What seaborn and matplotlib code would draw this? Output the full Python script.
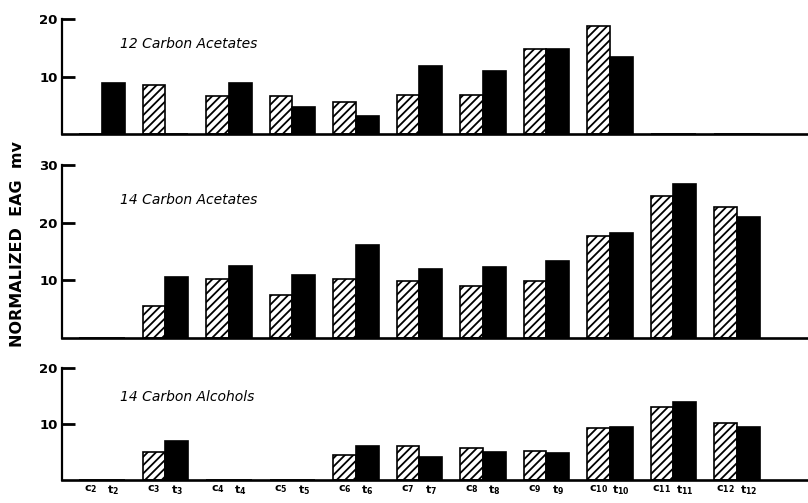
import numpy as np
import pandas as pd
import seaborn as sns
import matplotlib.pyplot as plt

# chain length of the compounds (c = cis, t = trans)
groups = ['2', '3', '4', '5', '6', '7', '8', '9', '10', '11', '12']

# 12 carbon acetates
ac12_cis = [0, 8.5, 6.6, 6.6, 5.6, 6.8, 6.8, 14.8, 18.8, 0, 0]
ac12_trans = [8.8, 0, 8.9, 4.7, 3.1, 11.8, 11.0, 14.8, 13.4, 0, 0]

# 14 carbon acetates
ac14_cis = [0, 5.5, 10.2, 7.4, 10.2, 9.9, 9.0, 9.9, 17.7, 24.7, 22.8]
ac14_trans = [0, 10.5, 12.4, 11.0, 16.2, 12.0, 12.3, 13.4, 18.2, 26.7, 21.0]

# 14 carbon alcohols
al14_cis = [0, 5.0, 0, 0, 4.4, 6.0, 5.7, 5.1, 9.2, 13.1, 10.1]
al14_trans = [0, 6.9, 0, 0, 6.0, 4.1, 5.0, 4.8, 9.4, 14.0, 9.4]

panels = [
    ('12 Carbon Acetates', ac12_cis, ac12_trans, 20, [10, 20]),
    ('14 Carbon Acetates', ac14_cis, ac14_trans, 30, [10, 20, 30]),
    ('14 Carbon Alcohols', al14_cis, al14_trans, 20, [10, 20]),
]

sns.set_style('ticks')
plt.rcParams['hatch.linewidth'] = 1.3
plt.rcParams['mathtext.fontset'] = 'dejavusans'
for k in ['text.color', 'axes.edgecolor', 'xtick.color', 'ytick.color', 'axes.labelcolor']:
    plt.rcParams[k] = 'black'

fig = plt.figure(figsize=(8.08, 5.03), dpi=100)

# axes rectangles in figure fraction (left, bottom, width, height)
rects = [
    (0.0767, 0.7336, 0.9233, 0.2286),
    (0.0767, 0.3280, 0.9233, 0.3440),
    (0.0767, 0.0457, 0.9233, 0.2227),
]
title_y = [0.78, 0.80, 0.74]

for i, (title, cis, trans, ymax, yticks) in enumerate(panels):
    ax = fig.add_axes(rects[i])
    df = pd.DataFrame({
        'group': groups * 2,
        'value': cis + trans,
        'isomer': ['cis'] * len(groups) + ['trans'] * len(groups),
    })
    sns.barplot(data=df, x='group', y='value', hue='isomer', order=groups,
                palette=['white', 'black'], edgecolor='black', linewidth=1.2,
                width=0.72, errorbar=None, legend=False, ax=ax)
    for bar in ax.containers[0]:
        bar.set_hatch('////')

    ax.set_xlim(-0.63, 11.12)
    ax.set_ylim(0, ymax)
    ax.set_yticks(yticks)
    ax.set_yticklabels([str(t) for t in yticks], fontsize=9.5, fontweight='bold')
    ax.tick_params(axis='y', direction='in', length=9, width=2, pad=3)
    ax.set_xlabel('')
    ax.set_ylabel('')
    sns.despine(ax=ax)
    ax.spines['left'].set_linewidth(1.6)
    ax.spines['bottom'].set_linewidth(1.9)
    ax.spines['left'].set_bounds(0, ymax)
    ax.patch.set_alpha(0)

    ax.text(0.078, title_y[i], title, transform=ax.transAxes, fontsize=10,
            style='italic', fontweight='medium', va='center', ha='left')

    if i < 2:
        ax.set_xticks([])
    else:
        # one label under each bar, taken from the bar positions
        pos, labs = [], []
        for g, (bc, bt) in enumerate(zip(ax.containers[0], ax.containers[1])):
            pos.append(bc.get_x() + bc.get_width() / 2)
            labs.append(r'$\mathbf{c_{%s}}$' % groups[g])
            pos.append(bt.get_x() + bt.get_width() / 2)
            labs.append(r'$\mathbf{t_{%s}}$' % groups[g])
        ax.set_xticks(pos)
        ax.set_xticklabels(labs, fontsize=8)
        ax.tick_params(axis='x', length=0, pad=2)

fig.text(0.022, 0.515, 'NORMALIZED  EAG  mv', rotation=90, fontsize=11.5,
         fontweight='bold', va='center', ha='center')

fig.savefig('out.png', dpi=100)
